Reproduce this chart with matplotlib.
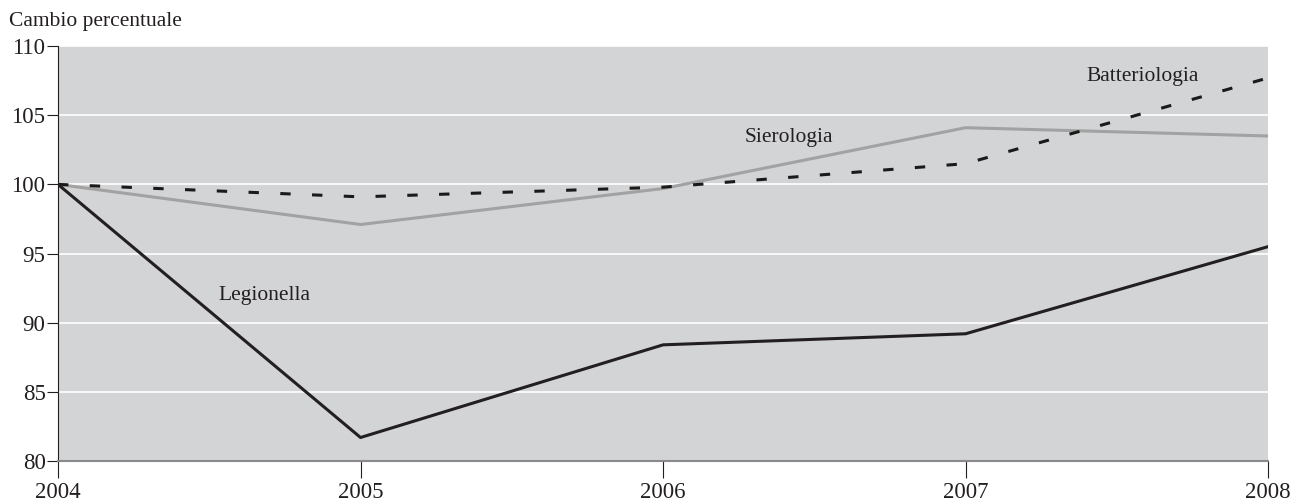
import matplotlib.pyplot as plt

plt.rcParams['font.family'] = ['Liberation Serif', 'DejaVu Serif']

years = [2004, 2005, 2006, 2007, 2008]
legionella = [100, 81.7, 88.4, 89.2, 95.5]
sierologia = [100, 97.1, 99.7, 104.1, 103.5]
batteriologia = [100, 99.1, 99.8, 101.5, 107.7]

fig = plt.figure(figsize=(12.92, 5.01), dpi=100)
ax = fig.add_axes([0.0449, 0.0798, 0.9366, 0.8282])
ax.set_facecolor('#d3d4d6')

ax.plot(years, sierologia, color='#a2a2a2', lw=2.2, zorder=3)
ax.plot(years, batteriologia, color='#1a1a1a', lw=2.2, dashes=(3.4, 7), zorder=4)
ax.plot(years, legionella, color='#231f20', lw=2.2, zorder=5)

ax.text(2004.53, 92.0, 'Legionella', fontsize=15.5, va='center', color='#231f20')
ax.text(2006.27, 103.4, 'Sierologia', fontsize=15.5, va='center', color='#231f20')
ax.text(2007.40, 107.8, 'Batteriologia', fontsize=15.5, va='center', color='#231f20')

ax.set_xlim(2004, 2008)
ax.set_ylim(80, 110)
ax.set_xticks(years)
ax.set_yticks(range(80, 111, 5))
ax.yaxis.grid(True, color='white', lw=1.2)
ax.set_axisbelow(True)

for s in ['top', 'right']:
    ax.spines[s].set_visible(False)
ax.spines['left'].set_color('#231f20')
ax.spines['bottom'].set_color('#8a8a8a')
ax.spines['bottom'].set_linewidth(1.5)
ax.tick_params(axis='y', length=8, labelsize=16.5, colors='#231f20', pad=1)
ax.tick_params(axis='x', length=12, labelsize=16.5, colors='#231f20', pad=3)

fig.text(0.007, 0.957, 'Cambio percentuale', fontsize=15.5, color='#231f20', va='center')

fig.savefig('out.png', dpi=100)
